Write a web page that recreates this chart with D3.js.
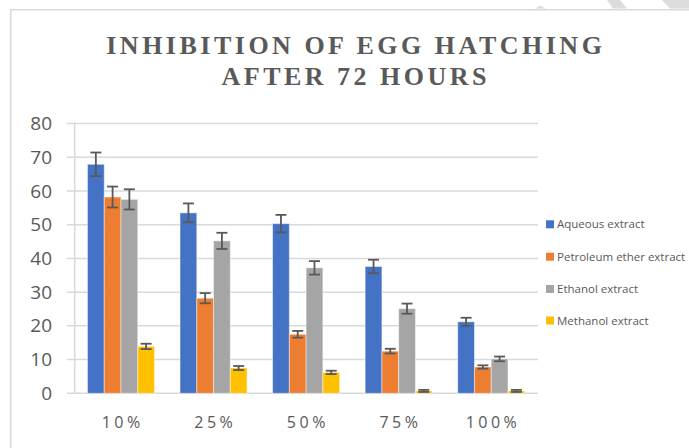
<!DOCTYPE html>
<html>
<head>
<meta charset="utf-8">
<script src="https://cdn.jsdelivr.net/npm/d3@7"></script>
<style>
  html, body { margin: 0; padding: 0; background: #fff; }
  svg { display: block; }
</style>
</head>
<body>
<script>
// ---- Data ----
const categories = ["10%", "25%", "50%", "75%", "100%"];
const seriesNames = ["Aqueous extract", "Petroleum ether extract", "Ethanol extract", "Methanol extract"];
const aqueous   = [67.9, 53.5, 50.3, 37.6, 21.2];
const petroleum = [58.2, 28.2, 17.5, 12.5, 7.8];
const ethanol   = [57.5, 45.2, 37.2, 25.1, 10.2];
const methanol  = [13.9, 7.5, 6.2, 0.7, 0.7];
const aqueousErr   = [3.5, 2.8, 2.6, 2.0, 1.2];
const petroleumErr = [3.1, 1.5, 1.0, 0.7, 0.5];
const ethanolErr   = [3.0, 2.4, 2.0, 1.5, 0.7];
const methanolErr  = [0.8, 0.6, 0.5, 0.3, 0.3];
const yTicks = [0, 10, 20, 30, 40, 50, 60, 70, 80];
const colors = ["#4472C4", "#ED7D31", "#A5A5A5", "#FFC000"];
const titleLines = ["INHIBITION OF EGG HATCHING", "AFTER 72 HOURS"];

const values = [aqueous, petroleum, ethanol, methanol];
const errs = [aqueousErr, petroleumErr, ethanolErr, methanolErr];

const W = 689, H = 448;
const svg = d3.select("body").append("svg").attr("width", W).attr("height", H);
svg.append("rect").attr("width", W).attr("height", H).attr("fill", "#fff");

// decorative stripes top-right
const stripes = [
  [[607,0],[620,0],[627,8.5],[613,8.5]],
  [[662,0],[689,0],[689,8.5],[670,8.5]],
  [[535,8.5],[540,5.5],[546,8.5]]
];
svg.selectAll("polygon.stripe").data(stripes).join("polygon")
  .attr("class","stripe")
  .attr("points", d => d.map(p => p.join(",")).join(" "))
  .attr("fill", "#dcdcdc");

// chart frame
svg.append("path")
  .attr("d", `M10.7,${H+5} L10.7,9.7 L${W+5},9.7`)
  .attr("fill", "none").attr("stroke", "#d9d9d9").attr("stroke-width", 1.6);

// title
const title = svg.append("text")
  .attr("font-family", "'Liberation Serif', 'Times New Roman', serif")
  .attr("font-weight", "bold")
  .attr("font-size", 26)
  .attr("letter-spacing", "3.5px")
  .attr("fill", "#595959")
  .attr("text-anchor", "middle");
title.selectAll("tspan").data(titleLines).join("tspan")
  .attr("x", 355.8)
  .attr("y", (d, i) => 54 + i * 30.5)
  .text(d => d);

// scales
const x0 = d3.scaleBand().domain(categories).range([74.7, 537.5]).paddingInner(0.276).paddingOuter(0.138);
const x1 = d3.scaleBand().domain(d3.range(4)).range([0, x0.bandwidth()]);
const y = d3.scaleLinear().domain([0, 80]).range([393.3, 123.5]);

// gridlines
svg.append("g").selectAll("line").data(yTicks).join("line")
  .attr("x1", 67).attr("x2", 538)
  .attr("y1", d => y(d)).attr("y2", d => y(d))
  .attr("stroke", "#d9d9d9").attr("stroke-width", 1.5);

// vertical axis line
svg.append("line").attr("x1", 74.7).attr("x2", 74.7)
  .attr("y1", y(80)).attr("y2", y(0))
  .attr("stroke", "#d9d9d9").attr("stroke-width", 1.5);

// y axis labels via d3 axis
const yAxis = svg.append("g").attr("transform", "translate(67,0)")
  .call(d3.axisLeft(y).tickValues(yTicks).tickSize(0).tickPadding(15));
yAxis.select(".domain").remove();
yAxis.selectAll("text")
  .attr("font-family", "'Open Sans', sans-serif")
  .attr("font-size", 19)
  .attr("fill", "#595959");

// x axis labels
const xAxis = svg.append("g").attr("transform", `translate(0,${y(0)})`)
  .call(d3.axisBottom(x0).tickSize(0).tickPadding(0));
xAxis.select(".domain").remove();
xAxis.selectAll("text")
  .attr("font-family", "'Open Sans', sans-serif")
  .attr("font-size", 16)
  .attr("letter-spacing", "3.5px")
  .attr("fill", "#595959")
  .attr("dy", null)
  .attr("y", 34.5)
  .attr("dx", "1.75px");

// bars
const rows = [];
categories.forEach((c, ci) => {
  values.forEach((v, si) => {
    rows.push({ cat: c, s: si, v: v[ci], e: errs[si][ci] });
  });
});

const barG = svg.append("g");
barG.selectAll("rect").data(rows).join("rect")
  .attr("x", d => x0(d.cat) + x1(d.s))
  .attr("width", x1.bandwidth())
  .attr("y", d => y(d.v))
  .attr("height", d => y(0) - y(d.v))
  .attr("fill", d => colors[d.s])
  .attr("stroke", "#ffffff").attr("stroke-opacity", 0.45).attr("stroke-width", 1);

// error bars
const cap = 5.5;
const eg = svg.append("g").attr("stroke", "#595959").attr("stroke-width", 1.8).attr("fill", "none");
rows.forEach(d => {
  const cx = x0(d.cat) + x1(d.s) + x1.bandwidth() / 2;
  const yt = y(d.v + d.e), yb = y(Math.max(0, d.v - d.e));
  eg.append("line").attr("x1", cx).attr("x2", cx).attr("y1", yt).attr("y2", yb);
  eg.append("line").attr("x1", cx - cap).attr("x2", cx + cap).attr("y1", yt).attr("y2", yt);
  eg.append("line").attr("x1", cx - cap).attr("x2", cx + cap).attr("y1", yb).attr("y2", yb);
});

// legend
const lg = svg.append("g");
const legendY = [224.3, 256.7, 289, 320.5];
seriesNames.forEach((n, i) => {
  lg.append("rect").attr("x", 546).attr("y", legendY[i] - 4).attr("width", 8).attr("height", 8).attr("fill", colors[i]);
  lg.append("text").attr("x", 557).attr("y", legendY[i]).attr("dy", "0.35em")
    .attr("font-family", "'Open Sans', sans-serif").attr("font-size", 11.5)
    .attr("fill", "#595959").text(n);
});
</script>
</body>
</html>
